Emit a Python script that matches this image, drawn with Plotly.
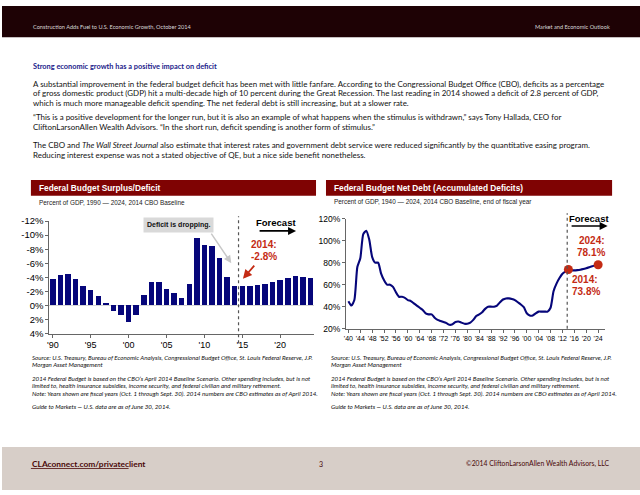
import plotly.graph_objects as go

W, H = 640, 495

# ---------------- data ----------------
deficit_years = list(range(1990, 2025))
deficit_pct = [-3.8, -4.4, -4.5, -3.8, -2.8, -2.2, -1.3, -0.3, 0.8, 1.3,
               2.3, 1.3, -1.5, -3.3, -3.4, -2.4, -1.8, -1.0, -3.1, -9.6,
               -8.6, -8.4, -6.8, -4.0, -2.8, -2.7, -2.8, -2.9, -3.1, -3.4,
               -3.6, -3.9, -4.2, -4.0, -3.9]
deficit_x_ticks = [1990, 1995, 2000, 2005, 2010, 2015, 2020]
deficit_x_text = ["'90", "'95", "'00", "'05", "'10", "'15", "'20"]
deficit_y_ticks = [-12, -10, -8, -6, -4, -2, 0, 2, 4]
deficit_y_text = ["-12%", "-10%", "-8%", "-6%", "-4%", "-2%", "0%", "2%", "4%"]

debt_years = list(range(1940, 2025))
debt_pct = [45, 41, 46, 76, 84, 106, 109, 101, 85, 80,
            80, 70, 64, 60, 60, 58, 53, 49, 49, 48,
            46, 45, 43, 41, 39, 37, 34, 33, 33, 30,
            28, 27, 26, 25, 23.5, 24, 26, 26.5, 25.5, 24.5,
            24.5, 25.5, 28, 31.5, 33, 35, 38, 40, 40, 40,
            41, 44, 46.5, 47.5, 47.5, 47, 46, 44, 42, 39.5,
            34, 32, 32, 34, 35.5, 35.5, 35.5, 35.5, 39, 54,
            61, 66, 70, 72, 73.8, 73.2, 73.0, 73.2, 73.6, 74.2,
            75.0, 75.9, 76.8, 77.5, 78.1]
debt_x_ticks = list(range(1940, 2025, 4))
debt_x_text = ["'40", "'44", "'48", "'52", "'56", "'60", "'64", "'68", "'72", "'76", "'80",
               "'84", "'88", "'92", "'96", "'00", "'04", "'08", "'12", "'16", "'20", "'24"]
debt_y_ticks = [20, 40, 60, 80, 100, 120]
debt_y_text = ["20%", "40%", "60%", "80%", "100%", "120%"]
highlight_years = [2014, 2024]
highlight_pct = [73.8, 78.1]

header_left = "Construction Adds Fuel to U.S. Economic Growth, October 2014"
header_right = "Market and Economic Outlook"
section_title = "Strong economic growth has a positive impact on deficit"
body_lines = [
    "A substantial improvement in the federal budget deficit has been met with little fanfare. According to the Congressional Budget Office (CBO), deficits as a percentage",
    "of gross domestic product (GDP) hit a multi-decade high of 10 percent during the Great Recession. The last reading in 2014 showed a deficit of 2.8 percent of GDP,",
    "which is much more manageable deficit spending. The net federal debt is still increasing, but at a slower rate.",
    "\u201cThis is a positive development for the longer run, but it is also an example of what happens when the stimulus is withdrawn,\u201d says Tony Hallada, CEO for",
    "CliftonLarsonAllen Wealth Advisors. \u201cIn the short run, deficit spending is another form of stimulus.\u201d",
    "The CBO and <i>The Wall Street Journal</i> also estimate that interest rates and government debt service were reduced significantly by the quantitative easing program.",
    "Reducing interest expense was not a stated objective of QE, but a nice side benefit nonetheless.",
]
body_y = [79.5, 89.3, 99, 114, 123.7, 142.5, 152.2]
foot_lines = [
    "Source: U.S. Treasury, Bureau of Economic Analysis, Congressional Budget Office, St. Louis Federal Reserve, J.P.",
    "Morgan Asset Management",
    "2014 Federal Budget is based on the CBO\u2019s April 2014 Baseline Scenario. Other spending includes, but is not",
    "limited to, health insurance subsidies, income security, and federal civilian and military retirement.",
    "Note: Years shown are fiscal years (Oct. 1 through Sept. 30). 2014 numbers are CBO estimates as of April 2014.",
    "Guide to Markets \u2014 U.S. data are as of June 30, 2014.",
]
foot_y = [359, 366.8, 380.7, 388.4, 396.1, 410]

# ---------------- styles ----------------
BODY = "Lato, 'Open Sans', sans-serif"
CHART = "'Liberation Sans Narrow', 'Arial Narrow', 'Liberation Sans', Arial, sans-serif"
NAVY = "#06067a"
MAROON = "#7f0303"
RED = "#c42b14"


def X(px):
    return px / W


def Y(py):
    return 1 - py / H


annotations = []
shapes = []


def txt(px, py, s, size, color="#000000", family=BODY, xanchor="left"):
    annotations.append(dict(x=X(px), y=Y(py), xref="paper", yref="paper", text=s,
                            showarrow=False, xanchor=xanchor, yanchor="middle",
                            align=xanchor if xanchor != "center" else "center",
                            font=dict(size=size, color=color, family=family)))


def arrow(tipx, tipy, tailx, taily, color, width):
    annotations.append(dict(x=X(tipx), y=Y(tipy), xref="paper", yref="paper", text="",
                            showarrow=True, ax=tailx - tipx, ay=taily - tipy,
                            arrowhead=2, arrowsize=1, arrowwidth=width,
                            arrowcolor=color, standoff=0, startstandoff=0))


def rect(x0, y0, x1, y1, color):
    shapes.append(dict(type="rect", xref="paper", yref="paper", x0=X(x0), x1=X(x1),
                       y0=Y(y1), y1=Y(y0), fillcolor=color, line=dict(width=0),
                       layer="below"))


fig = go.Figure()

# ---------------- left chart: bars ----------------
fig.add_trace(go.Bar(x=deficit_years, y=deficit_pct, marker=dict(color=NAVY, line=dict(width=0)),
                     width=0.72, xaxis="x", yaxis="y", showlegend=False, hoverinfo="skip"))

# ---------------- right chart: line ----------------
fig.add_trace(go.Scatter(x=debt_years, y=debt_pct, mode="lines",
                         line=dict(color=NAVY, width=2.1, shape="spline", smoothing=0.6),
                         xaxis="x2", yaxis="y2", showlegend=False, hoverinfo="skip"))
fig.add_trace(go.Scatter(x=highlight_years, y=highlight_pct, mode="markers",
                         marker=dict(color=RED, size=9),
                         xaxis="x2", yaxis="y2", showlegend=False, hoverinfo="skip"))

axis_common = dict(showgrid=False, showline=True, linecolor="#666666", linewidth=1,
                   ticks="outside", ticklen=3, tickcolor="#666666", tickwidth=1)

fig.update_layout(
    width=W, height=H, margin=dict(l=0, r=0, t=0, b=0),
    paper_bgcolor="white", plot_bgcolor="white", bargap=0,
    xaxis=dict(domain=[X(47.5), X(313)], range=[1989.54, 2024.46],
               tickvals=deficit_x_ticks, ticktext=deficit_x_text,
               tickfont=dict(family=CHART, size=9, color="#000"), anchor="y",
               **axis_common),
    yaxis=dict(domain=[Y(335), Y(220)], range=[4, -12],
               tickvals=deficit_y_ticks, ticktext=deficit_y_text,
               tickfont=dict(family=CHART, size=9.5, color="#000"), anchor="x",
               zeroline=True, zerolinecolor="#bbbbbb", zerolinewidth=0.6,
               **axis_common),
    xaxis2=dict(domain=[X(345), X(605)], range=[1939.16, 2026.35],
                tickvals=debt_x_ticks, ticktext=debt_x_text,
                tickfont=dict(family=CHART, size=7, color="#000"), anchor="y2",
                **axis_common),
    yaxis2=dict(domain=[Y(330), Y(217.5)], range=[20, 120],
                tickvals=debt_y_ticks, ticktext=debt_y_text,
                tickfont=dict(family=CHART, size=8.5, color="#000"), anchor="x2",
                zeroline=False, **axis_common),
)

# ---------------- page furniture ----------------
rect(0, 0, 640, 32, "#1e0205")
txt(29, 20.5, header_left, 5.6, "#d8d8d8")
txt(612, 20.5, header_right, 5.6, "#d8d8d8", xanchor="right")

txt(29, 62, "<b>" + section_title + "</b>", 7.4, "#1b1b8a")
for line, yy in zip(body_lines, body_y):
    txt(29, yy, line, 7.95, "#111111")

# chart header bars
rect(29, 178, 315, 194, MAROON)
rect(325, 178, 612, 194, MAROON)
txt(35, 186.3, "<b>Federal Budget Surplus/Deficit</b>", 8.3, "white", CHART)
txt(331, 186.3, "<b>Federal Budget Net Debt (Accumulated Deficits)</b>", 8.3, "white", CHART)
txt(35, 201, "Percent of GDP, 1990 \u2014 2024, 2014 CBO Baseline", 6.4, "#222222", CHART)
txt(331, 200.5, "Percent of GDP, 1940 \u2014 2024, 2014 CBO Baseline, end of fiscal year", 6.4, "#222222", CHART)

# left chart annotations
shapes.append(dict(type="line", xref="x", yref="paper", x0=2014.5, x1=2014.5,
                   y0=Y(345), y1=Y(215), line=dict(color="#555555", width=1.2, dash="dot")))
annotations.append(dict(x=X(177.5), y=Y(223.5), xref="paper", yref="paper",
                        text="<b>Deficit is dropping.</b>", showarrow=False,
                        xanchor="center", yanchor="middle", bgcolor="#d9d9d9",
                        borderpad=3, font=dict(family=CHART, size=7, color="#111")))
arrow(230, 263, 209, 232, "#c8c8c8", 1.5)
txt(275, 221.5, "<b>Forecast</b>", 9.5, "#000", CHART, xanchor="center")
arrow(295, 230, 257, 230, "#000000", 1.6)
txt(263, 244.3, "<b>2014:</b>", 10, RED, CHART, xanchor="center")
txt(263, 255.7, "<b>-2.8%</b>", 10, RED, CHART, xanchor="center")
arrow(241.7, 279, 254.3, 264.3, RED, 1.8)

# right chart annotations
shapes.append(dict(type="line", xref="x2", yref="paper", x0=2013.6, x1=2013.6,
                   y0=Y(330), y1=Y(212), line=dict(color="#555555", width=1.2, dash="dot")))
txt(588.5, 217.7, "<b>Forecast</b>", 9.5, "#000", CHART, xanchor="center")
arrow(607.5, 225, 570, 225, "#000000", 1.6)
txt(607, 240, "<b>2024:</b>", 10, RED, CHART, xanchor="right")
txt(607, 251.7, "<b>78.1%</b>", 10, RED, CHART, xanchor="right")
txt(570, 280, "<b>2014:</b>", 10, RED, CHART)
txt(570, 291.5, "<b>73.8%</b>", 10, RED, CHART)

# footnotes
for line, yy in zip(foot_lines, foot_y):
    txt(28, yy, "<i>" + line + "</i>", 6.2, "#111111")
    txt(328, yy, "<i>" + line + "</i>", 6.2, "#111111")

# footer
rect(0, 451, 640, 495, "#d7cec8")
txt(28, 468, "<b>CLAconnect.com/privateclient</b>", 8.4, "#4a0808")
shapes.append(dict(type="line", xref="paper", yref="paper", x0=X(29), x1=X(127),
                   y0=Y(473), y1=Y(473), line=dict(color="#4a0808", width=0.8)))
txt(320, 468, "3", 7, "#4a0808", xanchor="center")
txt(612, 468, "\u00a92014 CliftonLarsonAllen Wealth Advisors, LLC", 6.8, "#4a0808", xanchor="right")

fig.update_layout(annotations=annotations, shapes=shapes)
fig.write_html("out.html", config=dict(displayModeBar=False, staticPlot=True),
               post_script="document.body.style.margin='0';document.body.style.overflow='hidden';")
